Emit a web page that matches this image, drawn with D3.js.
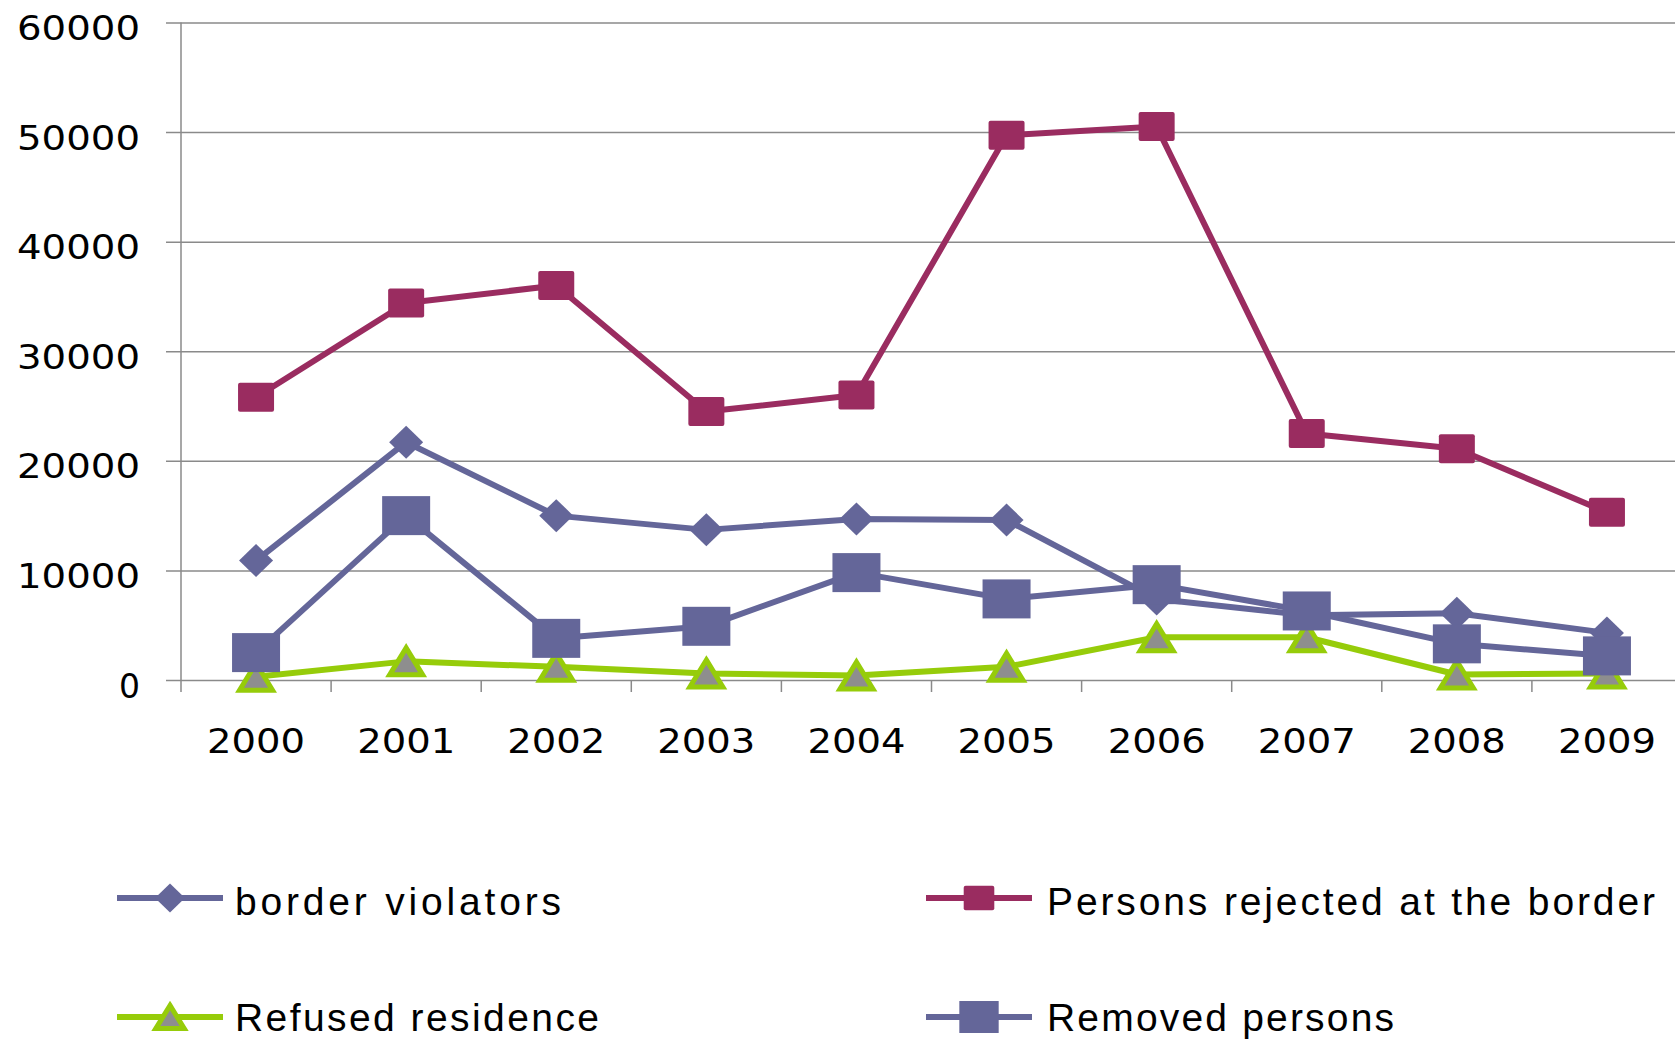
<!DOCTYPE html>
<html>
<head>
<meta charset="utf-8">
<script src="https://cdn.jsdelivr.net/npm/d3@7"></script>
<style>
  html, body { margin: 0; padding: 0; background: #ffffff; }
  svg { display: block; }
</style>
</head>
<body>
<svg id="chart" width="1675" height="1040"></svg>
<script>
// ---- data ----
const years = ['2000','2001','2002','2003','2004','2005','2006','2007','2008','2009'];
const borderViolators = [10900, 21700, 15000, 13700, 14700, 14600, 7400, 5900, 6100, 4300];
const personsRejected = [25800, 34400, 36000, 24500, 26000, 49700, 50500, 22500, 21100, 15300];
const refusedResidence = [300, 1700, 1200, 600, 400, 1200, 3900, 3900, 500, 600];
const removedPersons = [2500, 15000, 3800, 4900, 9800, 7400, 8700, 6300, 3300, 2200];
const yTicks = [0, 10000, 20000, 30000, 40000, 50000, 60000];
const seriesNames = ['border violators', 'Persons rejected at the border', 'Refused residence', 'Removed persons'];

// ---- styles ----
const BLUE = '#646699', PLUM = '#9a2c60', GREEN = '#96cc0a', GREY_FILL = '#8e8e8e';
const series = [
  { name: seriesNames[0], values: borderViolators, color: BLUE, marker: 'diamond', mw: 34, mh: 33 },
  { name: seriesNames[1], values: personsRejected, color: PLUM, marker: 'square', mw: 36, mh: 29, rx: 2 },
  { name: seriesNames[2], values: refusedResidence, color: GREEN, marker: 'triangle', mw: 38, mh: 32 },
  { name: seriesNames[3], values: removedPersons, color: BLUE, marker: 'square', mw: 48, mh: 39, rx: 0 }
];

const W = 1675, H = 1040;
const axisX = 181, zeroY = 680, topY = 22.5;
const svg = d3.select('#chart');

const x = d3.scaleBand().domain(years).range([axisX, axisX + 10 * 150.1]);
const y = d3.scaleLinear().domain([0, 60000]).range([zeroY, topY]);

const GRID = '#8a8a8a';

// y axis with gridlines
const yAxis = d3.axisLeft(y).tickValues(yTicks).tickSizeInner(-(W - axisX)).tickSizeOuter(0).tickPadding(41).tickFormat(d3.format('d'));
const gy = svg.append('g').attr('transform', `translate(${axisX},0)`).call(yAxis);
gy.select('.domain').remove();
gy.selectAll('.tick line').attr('x1', -15).attr('stroke', GRID).attr('stroke-width', 1.5);
gy.selectAll('.tick text')
  .attr('font-family', 'DejaVu Sans, Verdana, sans-serif')
  .attr('font-size', 34)
  .attr('fill', '#000')
  .attr('dy', '0.5em')
  .each(function(d) {
    const s = String(d);
    const len = s.length === 1 ? 21 : s.length * 24.8 - 1;
    d3.select(this).attr('textLength', len).attr('lengthAdjust', 'spacingAndGlyphs');
  });

// y axis line
svg.append('line').attr('x1', axisX).attr('x2', axisX).attr('y1', topY).attr('y2', zeroY + 12)
  .attr('stroke', GRID).attr('stroke-width', 1.5);

// x ticks at category boundaries
const boundaries = years.slice(1).map(d => x(d)).concat([x(years[years.length - 1]) + x.bandwidth()]);
svg.append('g').selectAll('line').data(boundaries).join('line')
  .attr('x1', d => d).attr('x2', d => d).attr('y1', zeroY).attr('y2', zeroY + 12)
  .attr('stroke', GRID).attr('stroke-width', 1.5);

// x labels
const xAxis = d3.axisBottom(x).tickSize(0).tickPadding(49);
const gx = svg.append('g').attr('transform', `translate(0,${zeroY})`).call(xAxis);
gx.select('.domain').remove();
gx.selectAll('.tick text')
  .attr('font-family', 'DejaVu Sans, Verdana, sans-serif')
  .attr('font-size', 34)
  .attr('fill', '#000')
  .attr('textLength', 98)
  .attr('lengthAdjust', 'spacingAndGlyphs');

// marker path generator
function markerPath(type, w, h) {
  const hw = w / 2, hh = h / 2;
  if (type === 'diamond') return `M0,${-hh}L${hw},0L0,${hh}L${-hw},0Z`;
  if (type === 'triangle') return `M0,${-hh}L${hw},${hh}L${-hw},${hh}Z`;
  return null;
}

function drawMarker(g, s, cx, cy, scale) {
  const w = s.mw * scale, h = s.mh * scale;
  if (s.marker === 'square') {
    g.append('rect').attr('x', cx - w / 2).attr('y', cy - h / 2).attr('width', w).attr('height', h)
      .attr('rx', s.rx || 0).attr('fill', s.color);
  } else if (s.marker === 'diamond') {
    g.append('path').attr('d', markerPath('diamond', w, h)).attr('transform', `translate(${cx},${cy})`)
      .attr('fill', s.color);
  } else {
    g.append('path').attr('d', markerPath('triangle', w - 5, h - 5)).attr('transform', `translate(${cx},${cy})`)
      .attr('fill', GREY_FILL).attr('stroke', s.color).attr('stroke-width', 5).attr('stroke-linejoin', 'miter');
  }
}

const line = d3.line().x((d, i) => x(years[i]) + x.bandwidth() / 2).y(d => y(d));

series.forEach(s => {
  const g = svg.append('g');
  g.append('path').datum(s.values).attr('d', line)
    .attr('fill', 'none').attr('stroke', s.color).attr('stroke-width', 6).attr('stroke-linejoin', 'round');
  s.values.forEach((v, i) => drawMarker(g, s, x(years[i]) + x.bandwidth() / 2, y(v), 1));
});

// legend
const legendPos = [
  { lx: 117, ly: 898, tx: 235, ty: 915, tl: 326, ms: 0.88 },
  { lx: 926, ly: 898, tx: 1047, ty: 915, tl: 608, ms: 0.85 },
  { lx: 117, ly: 1017, tx: 235, ty: 1031, tl: 364, ms: 0.88 },
  { lx: 926, ly: 1017, tx: 1047, ty: 1031, tl: 347, ms: 0.82 }
];
series.forEach((s, i) => {
  const p = legendPos[i];
  const g = svg.append('g');
  g.append('line').attr('x1', p.lx).attr('x2', p.lx + 106).attr('y1', p.ly).attr('y2', p.ly)
    .attr('stroke', s.color).attr('stroke-width', 6);
  drawMarker(g, s, p.lx + 53, p.ly, p.ms);
  g.append('text').attr('x', p.tx).attr('y', p.ty)
    .attr('font-family', 'Liberation Sans, Arial, sans-serif')
    .attr('font-size', 39)
    .attr('fill', '#000')
    .attr('textLength', p.tl)
    .attr('lengthAdjust', 'spacing')
    .text(s.name);
});
</script>
</body>
</html>
